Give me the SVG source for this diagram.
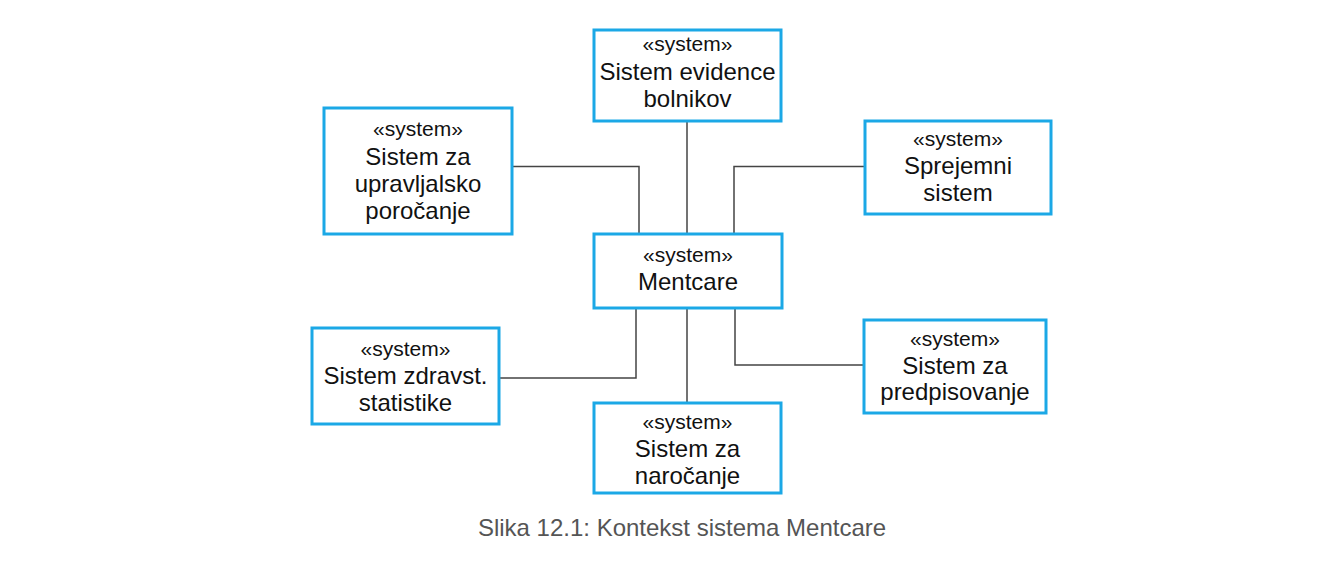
<svg xmlns="http://www.w3.org/2000/svg" width="1344" height="570" viewBox="0 0 1344 570">
<style>
.box{fill:#fff;stroke:#1ba8e6;stroke-width:3}
.st{font-family:"Liberation Sans",Arial,sans-serif;font-size:21px;fill:#111;text-anchor:middle}
.nm{font-family:"Liberation Sans",Arial,sans-serif;font-size:24px;fill:#111;text-anchor:middle}
.cn{fill:none;stroke:#444;stroke-width:1.5}
.cap{font-family:"Liberation Sans",Arial,sans-serif;font-size:24px;fill:#555;text-anchor:middle}
</style>
<rect width="1344" height="570" fill="#fff"/>
<g id="connectors">
<path class="cn" d="M687,121 V234"/>
<path class="cn" d="M512,166.5 H639 V234"/>
<path class="cn" d="M865,166.5 H734 V234"/>
<path class="cn" d="M499,378 H636 V308"/>
<path class="cn" d="M735,308 V365 H864"/>
<path class="cn" d="M687,308 V403"/>
</g>
<g id="evidence">
<rect class="box" x="594" y="30" width="187" height="91"/>
<text class="st" x="687.5" y="51">«system»</text>
<text class="nm" x="687.5" y="80">Sistem evidence</text>
<text class="nm" x="687.5" y="107">bolnikov</text>
</g>
<g id="upravljalsko">
<rect class="box" x="324" y="108" width="188" height="126"/>
<text class="st" x="418" y="136">«system»</text>
<text class="nm" x="418" y="165">Sistem za</text>
<text class="nm" x="418" y="192">upravljalsko</text>
<text class="nm" x="418" y="219">poročanje</text>
</g>
<g id="mentcare">
<rect class="box" x="594" y="234" width="188" height="74"/>
<text class="st" x="688" y="262">«system»</text>
<text class="nm" x="688" y="290">Mentcare</text>
</g>
<g id="sprejemni">
<rect class="box" x="865" y="121" width="186" height="93"/>
<text class="st" x="958" y="146">«system»</text>
<text class="nm" x="958" y="174">Sprejemni</text>
<text class="nm" x="958" y="201">sistem</text>
</g>
<g id="zdravst">
<rect class="box" x="312" y="328" width="187" height="96"/>
<text class="st" x="405.5" y="356">«system»</text>
<text class="nm" x="405.5" y="384">Sistem zdravst.</text>
<text class="nm" x="405.5" y="411">statistike</text>
</g>
<g id="predpisovanje">
<rect class="box" x="864" y="320" width="182" height="93"/>
<text class="st" x="955" y="346">«system»</text>
<text class="nm" x="955" y="374">Sistem za</text>
<text class="nm" x="955" y="400">predpisovanje</text>
</g>
<g id="narocanje">
<rect class="box" x="594" y="403" width="187" height="90"/>
<text class="st" x="687.5" y="429">«system»</text>
<text class="nm" x="687.5" y="457">Sistem za</text>
<text class="nm" x="687.5" y="484">naročanje</text>
</g>
<text class="cap" x="682" y="536">Slika 12.1: Kontekst sistema Mentcare</text>
</svg>
